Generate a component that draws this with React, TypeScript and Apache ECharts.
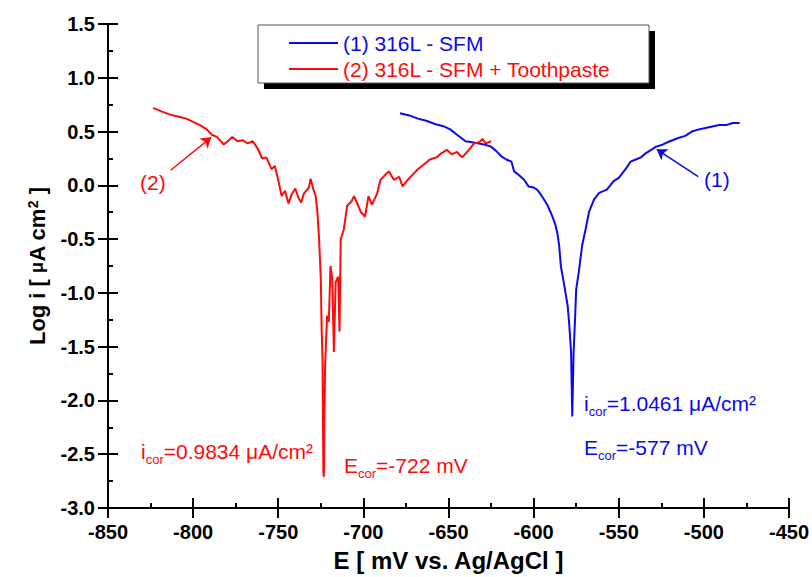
import React, { useEffect, useRef } from "react";
import * as echarts from "echarts";

const FONT = '"Liberation Sans", Arial, Helvetica, sans-serif';

// Curve (1): 316L - SFM  (E in mV, log i)
const blueE = [-678.5, -673, -668, -663, -658, -653, -649, -645, -640, -636, -633, -629, -625, -622, -619, -616, -613, -611.5, -609, -605.5, -603, -600, -598, -596, -594, -592, -590, -588, -587, -586, -585, -584, -582, -580, -579, -578, -577.3, -576.5, -575.5, -575, -573.5, -571.5, -569.5, -567.5, -564.5, -561.5, -557, -553, -550, -546, -543, -540, -537, -534, -531, -528, -524, -520, -515, -511, -507, -503, -497, -491, -487, -483, -479];
const blueLog = [0.67, 0.65, 0.62, 0.6, 0.57, 0.55, 0.52, 0.47, 0.41, 0.4, 0.39, 0.38, 0.36, 0.32, 0.27, 0.24, 0.22, 0.13, 0.1, 0.05, -0.01, -0.02, -0.04, -0.08, -0.13, -0.18, -0.25, -0.33, -0.38, -0.45, -0.56, -0.75, -0.93, -1.12, -1.31, -1.55, -2.15, -1.55, -1.18, -0.97, -0.81, -0.56, -0.41, -0.25, -0.13, -0.07, -0.04, 0.04, 0.07, 0.15, 0.22, 0.24, 0.26, 0.3, 0.33, 0.36, 0.38, 0.41, 0.44, 0.46, 0.5, 0.52, 0.54, 0.56, 0.56, 0.58, 0.58];

// Curve (2): 316L - SFM + Toothpaste
const redE = [-823.5, -819, -814, -809, -804, -800, -796, -792, -789, -786, -782, -779, -777, -774, -771, -768, -765, -762, -759.5, -757, -754, -752, -750, -748, -746, -744, -742, -740, -738, -736.5, -735, -733.5, -732, -731, -729.5, -728, -727, -726, -725, -724.5, -724, -723.5, -723.2, -723, -722.5, -721.3, -720.3, -719.3, -718.3, -717.3, -716.3, -714.8, -714, -713.3, -711.5, -709.5, -707, -705.5, -703, -701.5, -699, -697, -695, -692, -690, -687, -685, -682, -679, -677, -674, -671, -668, -664, -661, -657, -654, -651, -648, -645, -642, -638, -635, -632, -630, -628, -625];
const redLog = [0.72, 0.69, 0.66, 0.64, 0.62, 0.59, 0.56, 0.52, 0.47, 0.45, 0.38, 0.42, 0.45, 0.41, 0.42, 0.39, 0.41, 0.34, 0.25, 0.26, 0.15, 0.18, 0.05, -0.1, -0.05, -0.17, -0.08, -0.03, -0.12, -0.16, -0.08, -0.05, -0.02, 0.06, -0.03, -0.1, -0.25, -0.5, -0.87, -1.34, -1.6, -2.66, -2.71, -2.3, -1.68, -1.21, -1.27, -0.75, -0.87, -1.55, -0.9, -0.85, -1.36, -0.5, -0.41, -0.19, -0.15, -0.1, -0.19, -0.25, -0.29, -0.1, -0.18, -0.08, 0.05, 0.1, 0.13, 0.05, 0.08, -0.01, 0.05, 0.1, 0.15, 0.2, 0.24, 0.26, 0.3, 0.33, 0.29, 0.31, 0.26, 0.33, 0.39, 0.4, 0.43, 0.39, 0.41];

const seriesNames = ["(1) 316L - SFM", "(2) 316L - SFM + Toothpaste"];
const seriesColors = ["#0a0af0", "#ff0a0a"];

// arrows [start, end] in data coordinates
const arrow1 = [[-503.3, 0.08], [-527.7, 0.335]];
const arrow2 = [[-813.2, 0.14], [-789.4, 0.446]];

const xMin = -850, xMax = -450, xStep = 50;
const yMin = -3, yMax = 1.5, yStep = 0.5;

const zip = (a: number[], b: number[]) => a.map((v, i) => [v, b[i]]);

export default function App() {
  const ref = useRef<HTMLDivElement>(null);
  useEffect(() => {
    if (!ref.current) return;
    const chart = echarts.init(ref.current, null, { renderer: "svg" });
    const tickLabel = { fontFamily: FONT, fontWeight: "bold", fontSize: 20, color: "#000" };
    const axLine = { onZero: false, lineStyle: { color: "#000", width: 2 } };
    const annRich = (color: string) => ({
      m: { fontFamily: FONT, fontSize: 21, color, lineHeight: 28 },
      s: { fontFamily: FONT, fontSize: 13, color, lineHeight: 13, verticalAlign: "bottom" },
    });
    const ann = (x: number, y: number, text: string, color: string) => ({
      type: "text",
      left: x,
      top: y,
      z: 10,
      style: { text, rich: annRich(color), fill: color },
    });
    const option: any = {
      animation: false,
      backgroundColor: "#fff",
      grid: { left: 108, right: 19, top: 24, bottom: 67 },
      xAxis: [
        {
          type: "value", min: xMin, max: xMax, interval: xStep, position: "bottom",
          name: "E [ mV vs. Ag/AgCl ]", nameLocation: "middle", nameGap: 40,
          nameTextStyle: { fontFamily: FONT, fontWeight: "bold", fontSize: 24, color: "#000" },
          axisLine: { show: true, ...axLine },
          axisTick: { show: true, inside: false, length: 10, lineStyle: { width: 2, color: "#000" } },
          axisLabel: { ...tickLabel, margin: 14 },
          splitLine: { show: false },
        },
        {
          type: "value", min: xMin, max: xMax, interval: xStep, position: "bottom",
          axisLine: { show: false, onZero: false },
          axisTick: { show: true, inside: true, length: 10, lineStyle: { width: 2, color: "#000" } },
          minorTick: { show: true, splitNumber: 2, length: 5, lineStyle: { width: 2, color: "#000" } },
          axisLabel: { show: false },
          splitLine: { show: false },
        },
      ],
      yAxis: [
        {
          type: "value", min: yMin, max: yMax, interval: yStep, position: "left",
          name: "Log i [ {u|μ}A cm{sup|2} ]", nameLocation: "middle", nameGap: 60,
          nameTextStyle: {
            fontFamily: FONT, fontWeight: "bold", fontSize: 22, color: "#000",
            rich: {
              u: { fontFamily: FONT, fontSize: 18, color: "#000" },
              sup: { fontFamily: FONT, fontWeight: "bold", fontSize: 14, color: "#000", verticalAlign: "top", lineHeight: 14 },
            },
          },
          axisLine: { show: true, ...axLine },
          axisTick: { show: true, inside: false, length: 10, lineStyle: { width: 2, color: "#000" } },
          axisLabel: { ...tickLabel, margin: 13, formatter: (v: number) => v.toFixed(1) },
          splitLine: { show: false },
        },
        {
          type: "value", min: yMin, max: yMax, interval: yStep, position: "left",
          axisLine: { show: false, onZero: false },
          axisTick: { show: true, inside: true, length: 10, lineStyle: { width: 2, color: "#000" } },
          minorTick: { show: true, splitNumber: 2, length: 5, lineStyle: { width: 2, color: "#000" } },
          axisLabel: { show: false },
          splitLine: { show: false },
        },
      ],
      legend: {
        orient: "vertical",
        left: 289,
        top: 32,
        padding: 0,
        icon: "rect",
        itemWidth: 49,
        itemHeight: 2,
        itemGap: 4,
        textStyle: { fontFamily: FONT, fontSize: 21, lineHeight: 22 },
        data: seriesNames.map((n, i) => ({ name: n, textStyle: { color: seriesColors[i] } })),
        z: 20,
      },
      series: [
        {
          name: seriesNames[0], type: "line", xAxisIndex: 0, yAxisIndex: 0,
          data: zip(blueE, blueLog), showSymbol: false, symbol: "none",
          lineStyle: { color: seriesColors[0], width: 2 }, itemStyle: { color: seriesColors[0] },
          markLine: {
            silent: true, symbol: ["none", "arrow"], symbolSize: 10, label: { show: false },
            lineStyle: { color: seriesColors[0], width: 1.5, type: "solid" },
            data: [[{ coord: arrow1[0] }, { coord: arrow1[1] }]],
          },
        },
        {
          name: seriesNames[1], type: "line", xAxisIndex: 0, yAxisIndex: 0,
          data: zip(redE, redLog), showSymbol: false, symbol: "none",
          lineStyle: { color: seriesColors[1], width: 2 }, itemStyle: { color: seriesColors[1] },
          markLine: {
            silent: true, symbol: ["none", "arrow"], symbolSize: 10, label: { show: false },
            lineStyle: { color: seriesColors[1], width: 1.5, type: "solid" },
            data: [[{ coord: arrow2[0] }, { coord: arrow2[1] }]],
          },
        },
      ],
      graphic: [
        { type: "rect", shape: { x: 264, y: 31, width: 391, height: 58 }, style: { fill: "#000" }, z: 15 },
        { type: "rect", shape: { x: 258, y: 25, width: 391, height: 58 }, style: { fill: "#fff", stroke: "#555", lineWidth: 1 }, z: 16 },
        { type: "text", left: 140, top: 172, z: 10, style: { text: "(2)", fill: seriesColors[1], font: `21px ${FONT}` } },
        { type: "text", left: 704, top: 169, z: 10, style: { text: "(1)", fill: seriesColors[0], font: `21px ${FONT}` } },
        ann(141, 441, "{m|i}{s|cor}{m|=0.9834 μA/cm²}", seriesColors[1]),
        ann(344, 455, "{m|E}{s|cor}{m|=-722 mV}", seriesColors[1]),
        ann(584, 393, "{m|i}{s|cor}{m|=1.0461 μA/cm²}", seriesColors[0]),
        ann(584, 437, "{m|E}{s|cor}{m|=-577 mV}", seriesColors[0]),
      ],
    };
    chart.setOption(option);
    return () => chart.dispose();
  }, []);
  return <div ref={ref} style={{ position: "fixed", left: 0, top: 0, width: 812, height: 577 }} />;
}
